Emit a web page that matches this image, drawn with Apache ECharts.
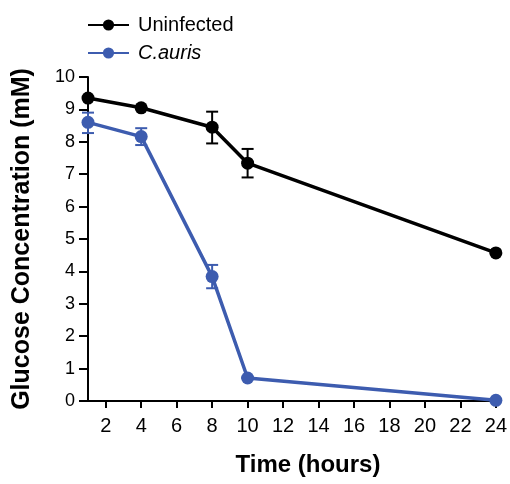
<!DOCTYPE html>
<html><head><meta charset="utf-8">
<script src="https://cdn.jsdelivr.net/npm/echarts@6/dist/echarts.min.js"></script>
<style>html,body{margin:0;padding:0;background:#fff}#c{width:510px;height:484px}</style>
</head><body><div id="c"></div>
<script>
var hours = [1, 4, 8, 10, 24];
var uninfected = [9.35, 9.05, 8.45, 7.34, 4.57];
var uninfectedLow = [9.35, 9.05, 7.95, 6.9, 4.57];
var uninfectedHigh = [9.35, 9.05, 8.93, 7.78, 4.57];
var cauris = [8.6, 8.16, 3.84, 0.71, 0.02];
var caurisLow = [8.27, 7.9, 3.48, 0.71, 0.02];
var caurisHigh = [8.9, 8.42, 4.2, 0.71, 0.02];
var xTicks = [2, 4, 6, 8, 10, 12, 14, 16, 18, 20, 22, 24];
var yTicks = [0, 1, 2, 3, 4, 5, 6, 7, 8, 9, 10];

var BLACK = '#000000', BLUE = '#3d5caf';
var FONT = '"Liberation Sans", Arial, Helvetica, sans-serif';

function pairs(xs, ys) { return xs.map(function (x, i) { return [x, ys[i]]; }); }
function errData(xs, lo, hi) { return xs.map(function (x, i) { return [x, lo[i], hi[i]]; }); }
function errRender(color) {
  return function (params, api) {
    var x = api.value(0);
    var lo = api.coord([x, api.value(1)]);
    var hi = api.coord([x, api.value(2)]);
    var w = 6;
    var st = { stroke: color, lineWidth: 2 };
    return { type: 'group', children: [
      { type: 'line', shape: { x1: lo[0], y1: lo[1], x2: hi[0], y2: hi[1] }, style: st },
      { type: 'line', shape: { x1: lo[0] - w, y1: lo[1], x2: lo[0] + w, y2: lo[1] }, style: st },
      { type: 'line', shape: { x1: hi[0] - w, y1: hi[1], x2: hi[0] + w, y2: hi[1] }, style: st }
    ]};
  };
}

var chart = echarts.init(document.getElementById('c'), null, { renderer: 'canvas' });
chart.setOption({
  animation: false,
  backgroundColor: '#fff',
  grid: { left: 88, right: 11, top: 77, bottom: 83, containLabel: false },
  legend: {
    orient: 'vertical', left: 82, top: 10, itemWidth: 41, itemHeight: 14, itemGap: 8,
    data: ['Uninfected', 'C.auris'],
    textStyle: { fontFamily: FONT, fontSize: 20, color: '#000', padding: [0, 0, 0, 4],
      rich: { i: { fontStyle: 'italic', fontFamily: FONT, fontSize: 20, color: '#000' } } },
    formatter: function (n) { return n === 'C.auris' ? '{i|C.auris}' : n; }
  },
  xAxis: {
    type: 'value', min: 1, max: 24,
    name: 'Time (hours)', nameLocation: 'middle', nameGap: 52,
    nameTextStyle: { fontFamily: FONT, fontSize: 24, fontWeight: 'bold', color: '#000', padding: [0, 0, 0, 32] },
    axisLine: { show: true, lineStyle: { color: '#000', width: 2 } },
    axisTick: { show: true, length: 7, lineStyle: { color: '#000', width: 2 }, customValues: xTicks },
    axisLabel: { fontFamily: FONT, fontSize: 20, color: '#000', margin: 15, customValues: xTicks },
    splitLine: { show: false }
  },
  yAxis: {
    type: 'value', min: 0, max: 10, interval: 1,
    name: 'Glucose Concentration (mM)', nameLocation: 'middle', nameGap: 53,
    nameTextStyle: { fontFamily: FONT, fontSize: 25, fontWeight: 'bold', color: '#000' },
    axisLine: { show: true, lineStyle: { color: '#000', width: 2 } },
    axisTick: { show: true, length: 9, lineStyle: { color: '#000', width: 2 } },
    axisLabel: { fontFamily: FONT, fontSize: 18, color: '#000', margin: 13,
      formatter: function (v) { return yTicks.indexOf(v) >= 0 ? String(v) : ''; } },
    splitLine: { show: false }
  },
  series: [
    { name: 'Uninfected', type: 'line', data: pairs(hours, uninfected), symbol: 'circle', symbolSize: 13,
      lineStyle: { color: BLACK, width: 3.5 }, itemStyle: { color: BLACK }, z: 3 },
    { name: 'C.auris', type: 'line', data: pairs(hours, cauris), symbol: 'circle', symbolSize: 13,
      lineStyle: { color: BLUE, width: 3.5 }, itemStyle: { color: BLUE }, z: 3 },
    { name: 'errU', type: 'custom', data: errData(hours, uninfectedLow, uninfectedHigh),
      renderItem: errRender(BLACK), z: 2, encode: { x: 0, y: [1, 2] } },
    { name: 'errC', type: 'custom', data: errData(hours, caurisLow, caurisHigh),
      renderItem: errRender(BLUE), z: 2, encode: { x: 0, y: [1, 2] } }
  ]
});
</script></body></html>
